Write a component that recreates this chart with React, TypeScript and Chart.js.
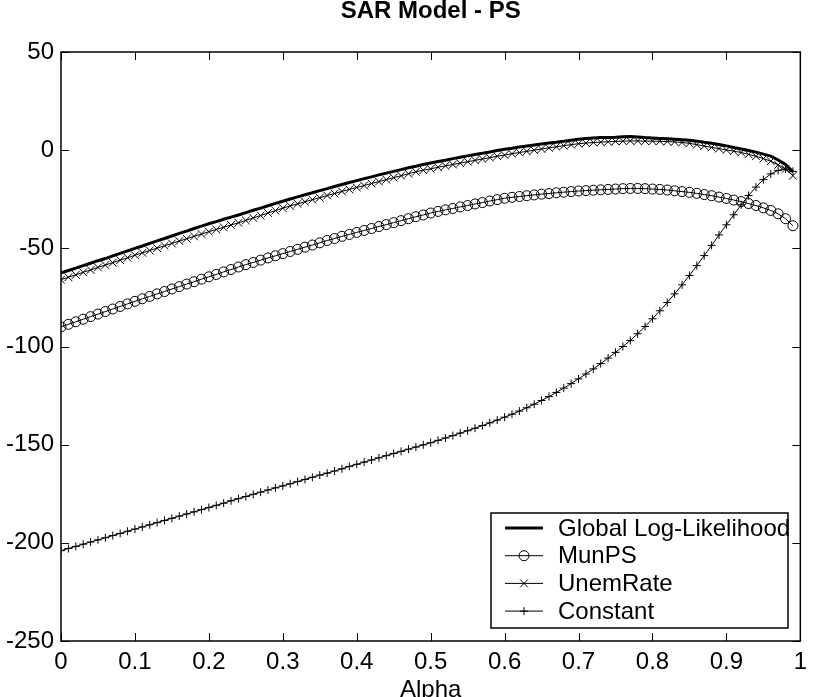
import React, { useEffect, useRef } from "react";
import { Chart, registerables } from "chart.js";

Chart.register(...registerables);

const titleText = "SAR Model - PS";
const xTitleText = "Alpha";
const seriesLabels = ["Global Log-Likelihood", "MunPS", "UnemRate", "Constant"];

const xTicks = [0, 0.1, 0.2, 0.3, 0.4, 0.5, 0.6, 0.7, 0.8, 0.9, 1];
const xTickLabels = ["0", "0.1", "0.2", "0.3", "0.4", "0.5", "0.6", "0.7", "0.8", "0.9", "1"];
const yTicks = [-250, -200, -150, -100, -50, 0, 50];
const yTickLabels = ["-250", "-200", "-150", "-100", "-50", "0", "50"];

const alpha = [
  0.0, 0.01, 0.02, 0.03, 0.04, 0.05, 0.06, 0.07, 0.08, 0.09,
  0.1, 0.11, 0.12, 0.13, 0.14, 0.15, 0.16, 0.17, 0.18, 0.19,
  0.2, 0.21, 0.22, 0.23, 0.24, 0.25, 0.26, 0.27, 0.28, 0.29,
  0.3, 0.31, 0.32, 0.33, 0.34, 0.35, 0.36, 0.37, 0.38, 0.39,
  0.4, 0.41, 0.42, 0.43, 0.44, 0.45, 0.46, 0.47, 0.48, 0.49,
  0.5, 0.51, 0.52, 0.53, 0.54, 0.55, 0.56, 0.57, 0.58, 0.59,
  0.6, 0.61, 0.62, 0.63, 0.64, 0.65, 0.66, 0.67, 0.68, 0.69,
  0.7, 0.71, 0.72, 0.73, 0.74, 0.75, 0.76, 0.77, 0.78, 0.79,
  0.8, 0.81, 0.82, 0.83, 0.84, 0.85, 0.86, 0.87, 0.88, 0.89,
  0.9, 0.91, 0.92, 0.93, 0.94, 0.95, 0.96, 0.97, 0.98, 0.99,
];

const globalLL = [
  -62.5, -61.3, -60.1, -58.8, -57.6, -56.3, -55.2, -53.8, -52.6, -51.3,
  -50.0, -48.8, -47.5, -46.2, -45.0, -43.7, -42.4, -41.2, -39.9, -38.7,
  -37.5, -36.4, -35.2, -34.1, -33.0, -31.8, -30.6, -29.5, -28.3, -27.1,
  -26.0, -24.9, -23.8, -22.7, -21.7, -20.6, -19.6, -18.5, -17.5, -16.5,
  -15.5, -14.5, -13.6, -12.6, -11.7, -10.8, -9.9, -9.0, -8.2, -7.3,
  -6.5, -5.8, -5.1, -4.3, -3.6, -2.9, -2.2, -1.6, -0.9, -0.2,
  0.5, 1.0, 1.6, 2.1, 2.6, 3.1, 3.6, 4.0, 4.5, 5.1,
  5.6, 5.9, 6.2, 6.4, 6.5, 6.6, 6.8, 7.0, 6.7, 6.4,
  6.2, 6.0, 5.8, 5.6, 5.3, 5.0, 4.6, 4.0, 3.5, 2.9,
  2.2, 1.4, 0.6, -0.2, -1.0, -2.0, -3.0, -5.0, -7.3, -11.0,
];

const munPS = [
  -90.0, -88.7, -87.4, -86.1, -84.8, -83.5, -82.2, -80.9, -79.6, -78.3,
  -77.0, -75.7, -74.5, -73.2, -72.0, -70.7, -69.5, -68.2, -67.0, -65.7,
  -64.5, -63.3, -62.0, -60.8, -59.5, -58.3, -57.2, -56.0, -54.9, -53.8,
  -52.7, -51.6, -50.5, -49.4, -48.3, -47.2, -46.0, -45.0, -43.9, -42.9,
  -41.9, -40.9, -39.9, -38.9, -37.9, -36.9, -35.9, -34.9, -33.9, -33.0,
  -32.0, -31.2, -30.4, -29.7, -28.9, -28.2, -27.4, -26.7, -25.9, -25.2,
  -24.5, -24.0, -23.6, -23.2, -22.8, -22.4, -22.1, -21.7, -21.4, -21.1,
  -20.8, -20.6, -20.4, -20.2, -20.0, -19.8, -19.6, -19.5, -19.5, -19.6,
  -19.8, -20.0, -20.3, -20.7, -21.1, -21.5, -22.0, -22.6, -23.2, -23.9,
  -24.6, -25.4, -26.2, -27.2, -28.2, -29.4, -30.7, -32.4, -34.9, -38.5,
];

const unemRate = [
  -66.0, -64.7, -63.5, -62.2, -61.0, -59.7, -58.5, -57.3, -56.0, -54.8,
  -53.5, -52.3, -51.1, -49.9, -48.7, -47.5, -46.3, -45.1, -43.9, -42.7,
  -41.5, -40.4, -39.3, -38.1, -37.0, -35.8, -34.5, -33.3, -32.0, -30.8,
  -29.5, -28.4, -27.3, -26.3, -25.2, -24.2, -23.1, -22.1, -21.0, -20.0,
  -19.0, -18.0, -17.0, -16.0, -15.0, -14.0, -13.0, -12.0, -11.0, -10.2,
  -9.5, -8.7, -8.0, -7.3, -6.6, -5.9, -5.2, -4.5, -3.8, -3.1,
  -2.5, -1.8, -1.2, -0.6, 0.0, 0.6, 1.2, 1.7, 2.3, 2.8,
  3.3, 3.6, 3.9, 4.1, 4.3, 4.5, 4.6, 4.7, 4.7, 4.6,
  4.6, 4.5, 4.4, 4.2, 3.9, 3.5, 2.8, 2.1, 1.4, 0.8,
  0.1, -0.5, -1.2, -2.1, -3.1, -4.3, -5.6, -7.5, -9.6, -13.0,
];

const constant = [
  -204.0, -202.9, -201.8, -200.7, -199.6, -198.5, -197.4, -196.3, -195.2, -194.1,
  -193.0, -191.9, -190.8, -189.7, -188.6, -187.5, -186.4, -185.3, -184.2, -183.1,
  -182.0, -180.9, -179.8, -178.6, -177.5, -176.4, -175.3, -174.2, -173.1, -172.0,
  -171.0, -169.9, -168.8, -167.7, -166.6, -165.5, -164.5, -163.4, -162.3, -161.1,
  -160.0, -158.9, -157.8, -156.7, -155.6, -154.5, -153.4, -152.3, -151.2, -150.1,
  -149.0, -147.8, -146.6, -145.4, -144.1, -142.9, -141.6, -140.3, -138.9, -137.5,
  -136.0, -134.5, -132.9, -131.2, -129.4, -127.5, -125.5, -123.4, -121.2, -118.9,
  -116.5, -114.0, -111.4, -108.7, -105.9, -103.0, -100.0, -96.9, -93.5, -89.8,
  -85.9, -81.8, -77.6, -73.2, -68.6, -63.8, -58.8, -53.7, -48.5, -43.2,
  -38.0, -32.9, -27.8, -23.1, -18.8, -15.0, -12.1, -10.3, -9.6, -10.8,
];

const FONT = "'Liberation Sans', Arial, Helvetica, sans-serif";

function toPoints(ys: number[]) {
  return alpha.map((x, i) => ({ x, y: ys[i] }));
}

function drawMarker(ctx: CanvasRenderingContext2D, style: string, x: number, y: number, r: number) {
  ctx.beginPath();
  if (style === "circle") {
    ctx.arc(x, y, r, 0, Math.PI * 2);
  } else if (style === "crossRot") {
    const o = r * Math.cos(Math.PI / 4);
    ctx.moveTo(x - o, y - o);
    ctx.lineTo(x + o, y + o);
    ctx.moveTo(x - o, y + o);
    ctx.lineTo(x + o, y - o);
  } else if (style === "cross") {
    ctx.moveTo(x - r, y);
    ctx.lineTo(x + r, y);
    ctx.moveTo(x, y - r);
    ctx.lineTo(x, y + r);
  }
  ctx.stroke();
}

const framePlugin = {
  id: "matlabFrame",
  afterDatasetsDraw(chart: any) {
    const { ctx, chartArea } = chart;
    const { left, right, top, bottom } = chartArea;
    const xs = chart.scales.x;
    const ys = chart.scales.y;
    const T = 8;
    ctx.save();
    ctx.strokeStyle = "#000";
    ctx.lineWidth = 1;
    ctx.beginPath();
    xs.ticks.forEach((t: any) => {
      const px = Math.round(xs.getPixelForValue(t.value)) + 0.5;
      ctx.moveTo(px, bottom);
      ctx.lineTo(px, bottom - T);
      ctx.moveTo(px, top);
      ctx.lineTo(px, top + T);
    });
    ys.ticks.forEach((t: any) => {
      const py = Math.round(ys.getPixelForValue(t.value)) + 0.5;
      ctx.moveTo(left, py);
      ctx.lineTo(left + T, py);
      ctx.moveTo(right, py);
      ctx.lineTo(right - T, py);
    });
    ctx.stroke();
    ctx.lineWidth = 1.5;
    ctx.strokeRect(left, top, right - left, bottom - top);

    // legend box
    const bw = 297;
    const bh = 115;
    const bx = Math.round(right - 12 - bw);
    const by = Math.round(bottom - 13 - bh);
    ctx.fillStyle = "#fff";
    ctx.fillRect(bx, by, bw, bh);
    ctx.lineWidth = 1.5;
    ctx.strokeRect(bx, by, bw, bh);
    ctx.font = `24px ${FONT}`;
    ctx.textBaseline = "middle";
    ctx.textAlign = "left";
    chart.data.datasets.forEach((ds: any, i: number) => {
      const cy = by + 15 + i * 27.7;
      ctx.strokeStyle = "#000";
      ctx.lineWidth = ds.borderWidth;
      ctx.beginPath();
      ctx.moveTo(bx + 14, cy);
      ctx.lineTo(bx + 52, cy);
      ctx.stroke();
      if (ds.pointRadius > 0) {
        ctx.lineWidth = 1;
        drawMarker(ctx, ds.pointStyle, bx + 33, cy, ds.pointRadius);
      }
      ctx.fillStyle = "#000";
      ctx.fillText(ds.label, bx + 67, cy + 1);
    });
    ctx.restore();
  },
};

export default function App() {
  const canvasRef = useRef<HTMLCanvasElement | null>(null);

  useEffect(() => {
    if (!canvasRef.current) return;
    const chart = new Chart(canvasRef.current, {
      type: "line",
      data: {
        datasets: [
          {
            label: seriesLabels[0],
            data: toPoints(globalLL),
            borderColor: "#000",
            borderWidth: 3,
            pointRadius: 0,
            tension: 0,
          },
          {
            label: seriesLabels[1],
            data: toPoints(munPS),
            borderColor: "#000",
            borderWidth: 1,
            pointStyle: "circle",
            pointRadius: 5,
            pointBorderWidth: 1,
            pointBorderColor: "#000",
            pointBackgroundColor: "rgba(0,0,0,0)",
            tension: 0,
          },
          {
            label: seriesLabels[2],
            data: toPoints(unemRate),
            borderColor: "#000",
            borderWidth: 1,
            pointStyle: "crossRot",
            pointRadius: 5.5,
            pointBorderWidth: 1,
            pointBorderColor: "#000",
            pointBackgroundColor: "rgba(0,0,0,0)",
            tension: 0,
          },
          {
            label: seriesLabels[3],
            data: toPoints(constant),
            borderColor: "#000",
            borderWidth: 1,
            pointStyle: "cross",
            pointRadius: 4,
            pointBorderWidth: 1,
            pointBorderColor: "#000",
            pointBackgroundColor: "rgba(0,0,0,0)",
            tension: 0,
          },
        ],
      },
      options: {
        animation: false,
        responsive: false,
        events: [],
        layout: { padding: { left: 0, right: 7, top: 0, bottom: 0 } },
        plugins: {
          legend: { display: false },
          tooltip: { enabled: false },
          title: {
            display: true,
            text: titleText,
            fullSize: false,
            color: "#000",
            font: { family: FONT, size: 24, weight: "bold", lineHeight: 1 },
            padding: { top: -1, bottom: 29 },
          },
        },
        scales: {
          x: {
            type: "linear",
            min: 0,
            max: 1,
            afterBuildTicks: (s: any) => {
              s.ticks = xTicks.map((v) => ({ value: v }));
            },
            afterFit: (s: any) => {
              s.height = 56;
            },
            grid: { display: false, drawTicks: false },
            border: { display: false },
            ticks: {
              color: "#000",
              padding: 7,
              maxRotation: 0,
              autoSkip: false,
              font: { family: FONT, size: 24 },
              callback: (_v: any, i: number) => xTickLabels[i],
            },
            title: {
              display: true,
              text: xTitleText,
              color: "#000",
              font: { family: FONT, size: 24 },
              padding: { top: 0, bottom: -8 },
            },
          },
          y: {
            type: "linear",
            min: -250,
            max: 50,
            afterBuildTicks: (s: any) => {
              s.ticks = yTicks.map((v) => ({ value: v }));
            },
            afterFit: (s: any) => {
              s.width = 61;
            },
            grid: { display: false, drawTicks: false },
            border: { display: false },
            ticks: {
              color: "#000",
              padding: 7,
              autoSkip: false,
              font: { family: FONT, size: 24 },
              callback: (_v: any, i: number) => yTickLabels[i],
            },
          },
        },
      },
      plugins: [framePlugin],
    });
    return () => chart.destroy();
  }, []);

  return (
    <div style={{ position: "fixed", left: 0, top: 0, width: 814, height: 697, background: "#fff" }}>
      <canvas ref={canvasRef} width={814} height={697} style={{ display: "block" }} />
    </div>
  );
}
